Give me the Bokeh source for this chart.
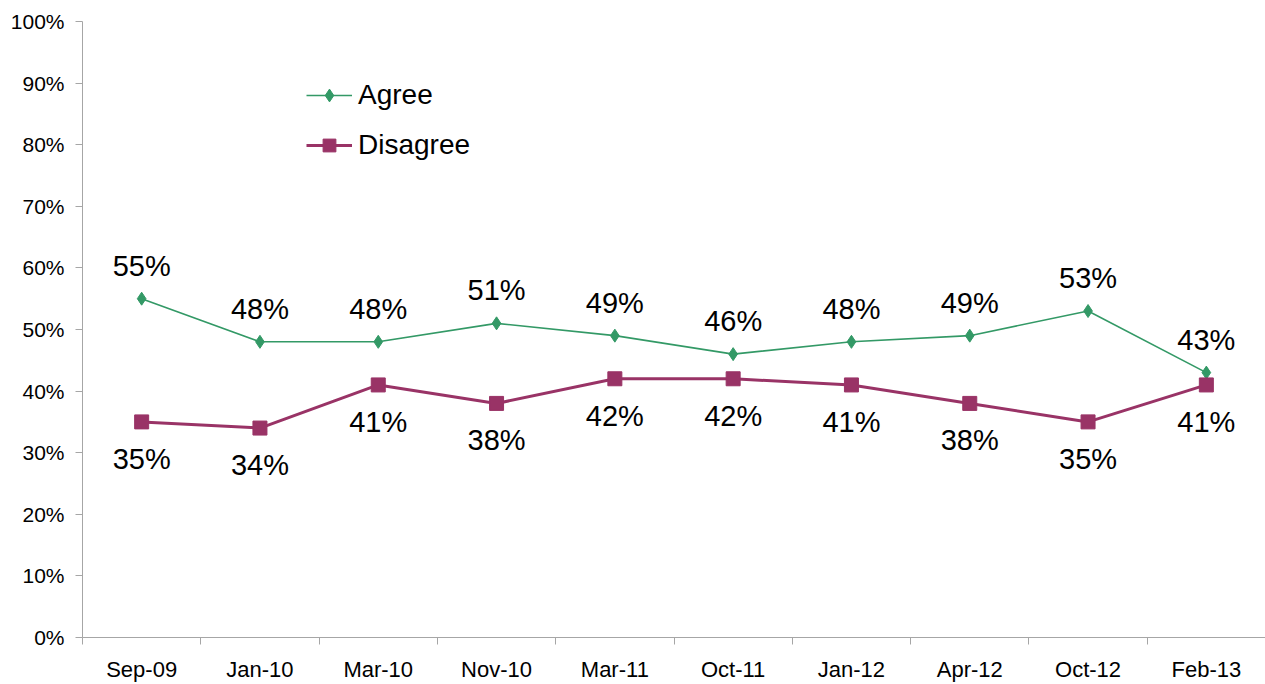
from bokeh.plotting import figure
from bokeh.models import Range1d, FixedTicker, PrintfTickFormatter, ColumnDataSource, Legend, LegendItem
from bokeh.embed import file_html
from bokeh.resources import INLINE
from bokeh.core.properties import value

categories = ["Sep-09", "Jan-10", "Mar-10", "Nov-10", "Mar-11", "Oct-11", "Jan-12", "Apr-12", "Oct-12", "Feb-13"]
agree = [55, 48, 48, 51, 49, 46, 48, 49, 53, 43]
disagree = [35, 34, 41, 38, 42, 42, 41, 38, 35, 41]
y_ticks = list(range(0, 101, 10))

FONT = "Liberation Sans"
GREEN = "#339966"
MAGENTA = "#993366"
AXIS = "#a6a6a6"

n = len(categories)
xs = [i + 0.5 for i in range(n)]

src = ColumnDataSource(dict(
    x=xs, agree=agree, disagree=disagree,
    agree_lbl=[f"{v}%" for v in agree],
    disagree_lbl=[f"{v}%" for v in disagree],
))

p = figure(width=1265, height=684, output_backend="svg", toolbar_location=None,
           x_range=Range1d(0, n), y_range=Range1d(0, 100),
           min_border_left=82, min_border_right=0, min_border_top=21, min_border_bottom=44)
p.outline_line_color = None
p.xgrid.visible = False
p.ygrid.visible = False
p.background_fill_color = "white"
p.border_fill_color = "white"

# x axis: labels at centers, ticks at category boundaries (minor ticks)
p.xaxis.ticker = FixedTicker(ticks=xs, minor_ticks=list(range(n + 1)))
p.xaxis.major_label_overrides = {x: c for x, c in zip(xs, categories)}
p.xaxis.major_tick_out = 0
p.xaxis.major_tick_in = 0
p.xaxis.minor_tick_out = 7
p.xaxis.minor_tick_in = 0
p.xaxis.minor_tick_line_color = AXIS
p.xaxis.axis_line_color = AXIS
p.xaxis.major_label_standoff = 12
p.xaxis.major_label_text_font = FONT
p.xaxis.major_label_text_font_size = "22px"
p.xaxis.major_label_text_color = "black"

p.yaxis.ticker = FixedTicker(ticks=y_ticks, minor_ticks=[])
p.yaxis.formatter = PrintfTickFormatter(format="%d%%")
p.yaxis.major_tick_out = 7
p.yaxis.major_tick_in = 0
p.yaxis.major_tick_line_color = AXIS
p.yaxis.axis_line_color = AXIS
p.yaxis.major_label_standoff = 11
p.yaxis.major_label_text_font = FONT
p.yaxis.major_label_text_font_size = "21px"
p.yaxis.major_label_text_color = "black"

la = p.line("x", "agree", source=src, line_color=GREEN, line_width=1.6)
ma = p.scatter("x", "agree", source=src, marker="diamond", size=13, fill_color=GREEN, line_color=GREEN)
ld = p.line("x", "disagree", source=src, line_color=MAGENTA, line_width=3)
md = p.scatter("x", "disagree", source=src, marker="square", size=14, fill_color=MAGENTA, line_color=MAGENTA)

p.text("x", "agree", text="agree_lbl", source=src, text_align="center", text_baseline="middle",
       y_offset=-33, text_font=value(FONT), text_font_size="29px", text_color="black")
p.text("x", "disagree", text="disagree_lbl", source=src, text_align="center", text_baseline="middle",
       y_offset=37, text_font=value(FONT), text_font_size="29px", text_color="black")

legend = Legend(items=[LegendItem(label="Agree", renderers=[la, ma]),
                       LegendItem(label="Disagree", renderers=[ld, md])],
                location=(224, 476), padding=0, margin=0, spacing=18,
                glyph_width=46, glyph_height=32, label_standoff=6,
                label_text_font=FONT, label_text_font_size="28px", label_text_color="black",
                background_fill_alpha=0, border_line_color=None)
p.add_layout(legend, "center")

open("out.html", "w").write(file_html(p, INLINE))
